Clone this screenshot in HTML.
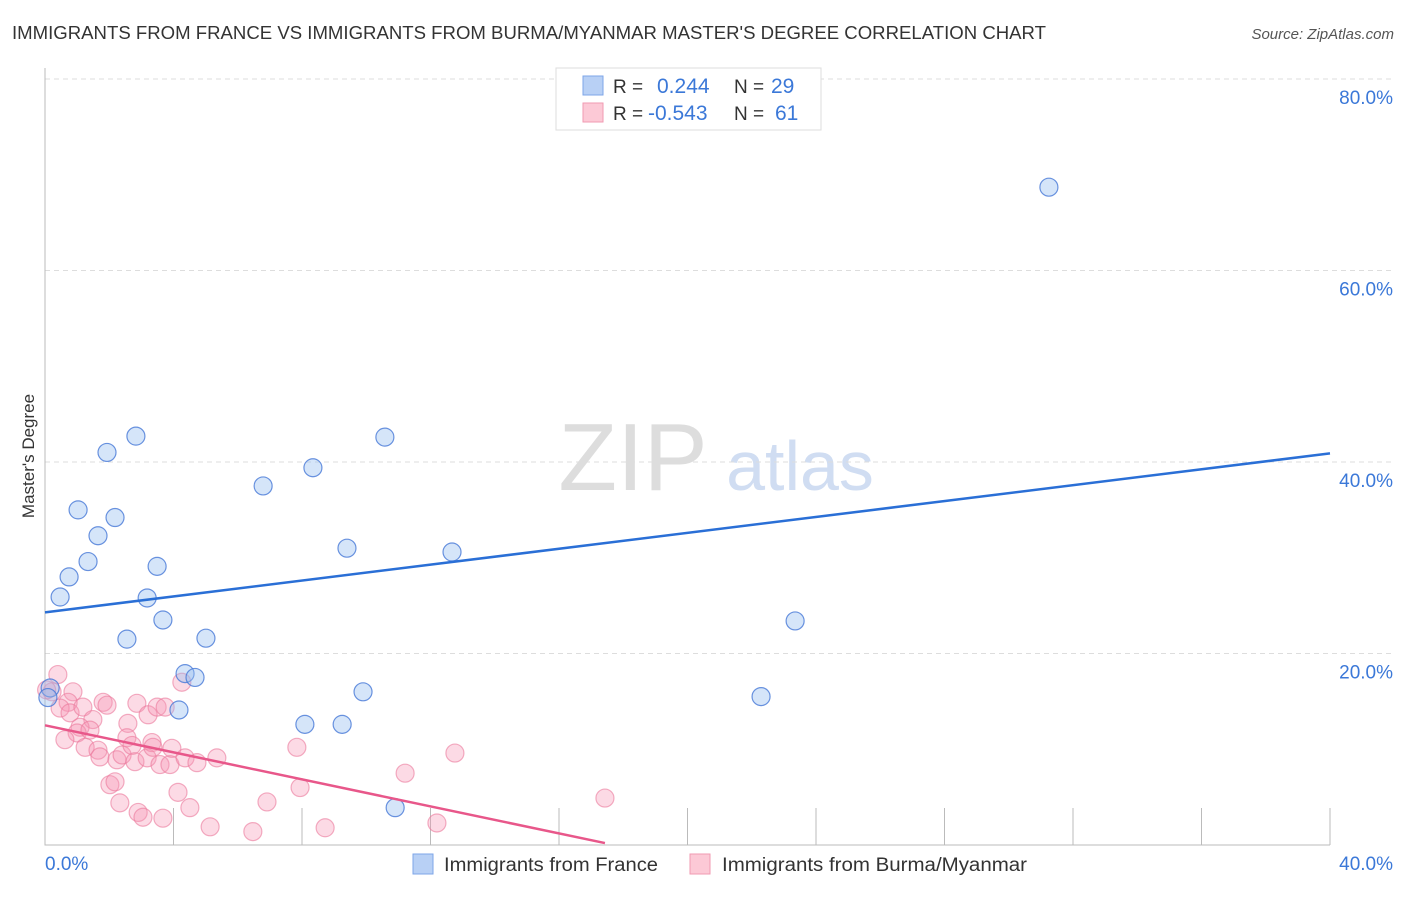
<!DOCTYPE html>
<html><head><meta charset="utf-8"><style>
body{margin:0;background:#fff;font-family:"Liberation Sans",sans-serif;}
svg text{font-family:"Liberation Sans",sans-serif;}
</style></head><body>
<svg id="chart" width="1406" height="892">
<text x="12" y="39" font-size="18" fill="#333" textLength="1034" lengthAdjust="spacingAndGlyphs">IMMIGRANTS FROM FRANCE VS IMMIGRANTS FROM BURMA/MYANMAR MASTER'S DEGREE CORRELATION CHART</text>
<text x="1394" y="39" font-size="15" fill="#555" font-style="italic" text-anchor="end">Source: ZipAtlas.com</text>
<text x="34" y="456" font-size="17" fill="#333" text-anchor="middle" transform="rotate(-90 34 456)">Master's Degree</text>
<g><text x="633" y="490" font-size="96" fill="#ddd" font-family="Liberation Serif" text-anchor="middle">ZIP</text><text x="800" y="490" font-size="70" fill="#d0ddf2" text-anchor="middle">atlas</text></g>
<g id="grid"></g><g id="marks"></g>
<g>
<rect x="556" y="68" width="265" height="62" fill="#fff" stroke="#ddd"/>
<rect x="583" y="76" width="20" height="19" fill="#b8d0f5" stroke="#7ea6e8"/>
<rect x="583" y="103" width="20" height="19" fill="#fcc9d6" stroke="#f09ab2"/>
<text x="613" y="93" font-size="19" fill="#333">R =</text><text x="657" y="93" font-size="21" fill="#3b78d8">0.244</text>
<text x="734" y="93" font-size="19" fill="#333">N =</text><text x="771" y="93" font-size="21" fill="#3b78d8">29</text>
<text x="613" y="120" font-size="19" fill="#333">R =</text><text x="648" y="120" font-size="21" fill="#3b78d8">-0.543</text>
<text x="734" y="120" font-size="19" fill="#333">N =</text><text x="775" y="120" font-size="21" fill="#3b78d8">61</text>
</g>
<g>
<rect x="413" y="854" width="20" height="20" fill="#b8d0f5" stroke="#7ea6e8"/>
<text x="444" y="871" font-size="19" fill="#333" textLength="214" lengthAdjust="spacingAndGlyphs">Immigrants from France</text>
<rect x="690" y="854" width="20" height="20" fill="#fcc9d6" stroke="#f09ab2"/>
<text x="722" y="871" font-size="19" fill="#333" textLength="305" lengthAdjust="spacingAndGlyphs">Immigrants from Burma/Myanmar</text>
</g>
</svg>
<script>
const yTicks=[20,40,60,80];
const yTickLabels=["20.0%","40.0%","60.0%","80.0%"];
const xTicks=[4,8,12,16,20,24,28,32,36,40];
const xTickLabels=["0.0%","40.0%"];
const franceX=[31.25,2.83,1.93,10.58,8.34,6.79,1.03,2.18,1.65,9.40,12.67,1.34,3.49,0.75,0.47,3.18,3.67,23.35,2.55,5.01,4.36,4.67,0.16,9.90,0.09,4.17,22.29,8.09,9.25,10.9];
const franceY=[68.7,42.7,41.0,42.6,39.4,37.5,35.0,34.2,32.3,31.0,30.6,29.6,29.1,28.0,25.9,25.8,23.5,23.4,21.5,21.6,17.9,17.5,16.4,16.0,15.4,14.1,15.5,12.6,12.6,3.9];
const burmaX=[0.40,0.22,0.87,0.72,0.47,0.78,1.18,1.81,1.93,1.49,1.09,1.00,1.40,0.62,1.25,1.65,1.71,2.24,2.40,2.58,2.86,3.21,3.49,3.74,4.26,2.55,2.71,2.80,3.18,3.33,3.36,3.58,3.89,3.95,4.36,4.73,5.35,2.02,2.18,2.33,2.90,3.05,3.67,4.14,4.51,5.14,6.47,6.91,7.84,7.94,8.72,11.21,12.20,12.76,17.43,0.05];
const burmaY=[17.8,16.0,16.0,14.9,14.3,13.8,14.4,14.9,14.6,13.1,12.3,11.7,12.0,11.0,10.2,9.9,9.2,8.9,9.4,12.7,14.8,13.6,14.4,14.4,17.0,11.2,10.4,8.7,9.1,10.7,10.2,8.4,8.4,10.1,9.1,8.6,9.1,6.3,6.6,4.4,3.4,2.9,2.8,5.5,3.9,1.9,1.4,4.5,10.2,6.0,1.8,7.5,2.3,9.6,4.9,16.2];
const franceTrend=[0,24.3,40,40.9];
const burmaTrend=[0,12.5,17.43,0.2];
const X=v=>45+v/40*1285, Y=v=>845-v/20*191.5;
const NS="http://www.w3.org/2000/svg";
const grid=document.getElementById('grid'),marks=document.getElementById('marks');
function mk(p,tag,a){const e=document.createElementNS(NS,tag);for(const k in a)e.setAttribute(k,a[k]);p.appendChild(e);return e;}
yTicks.forEach((t,i)=>{
 const l=mk(grid,'line',{x1:45,x2:1393,y1:Y(t),y2:Y(t),stroke:'#ddd','stroke-dasharray':'5,4'});
 
 
 const tx=mk(grid,'text',{x:1393,y:Y(t)+25,'font-size':19,fill:'#3b78d8','text-anchor':'end'});tx.textContent=yTickLabels[i];
 
 
});
xTicks.forEach(t=>{
 const l=mk(grid,'line',{x1:X(t),x2:X(t),y1:808,y2:845,stroke:'#bbb'});
 
 
});
const ax=mk(grid,'path',{d:'M45 68V845H1330',fill:'none',stroke:'#bbb'});


const xl0=mk(grid,'text',{x:45,y:870,'font-size':19,fill:'#3b78d8'});xl0.textContent=xTickLabels[0];


const xl1=mk(grid,'text',{x:1393,y:870,'font-size':19,fill:'#3b78d8','text-anchor':'end'});xl1.textContent=xTickLabels[1];


burmaX.forEach((v,i)=>{
 const c=mk(marks,'circle',{cx:X(v),cy:Y(burmaY[i]),r:9,fill:'rgba(245,150,180,0.35)',stroke:'rgba(235,120,155,0.6)','stroke-width':1.2});
 
 
});
franceX.forEach((v,i)=>{
 const c=mk(marks,'circle',{cx:X(v),cy:Y(franceY[i]),r:9,fill:'rgba(150,190,240,0.4)',stroke:'rgba(70,120,215,0.8)','stroke-width':1.2});
 
 
});
const bt=mk(marks,'line',{x1:X(franceTrend[0]),y1:Y(franceTrend[1]),x2:X(franceTrend[2]),y2:Y(franceTrend[3]),stroke:'#2a6fd6','stroke-width':2.5});


const pt=mk(marks,'line',{x1:X(burmaTrend[0]),y1:Y(burmaTrend[1]),x2:X(burmaTrend[2]),y2:Y(burmaTrend[3]),stroke:'#e8578a','stroke-width':2.5});


</script>
</body></html>
